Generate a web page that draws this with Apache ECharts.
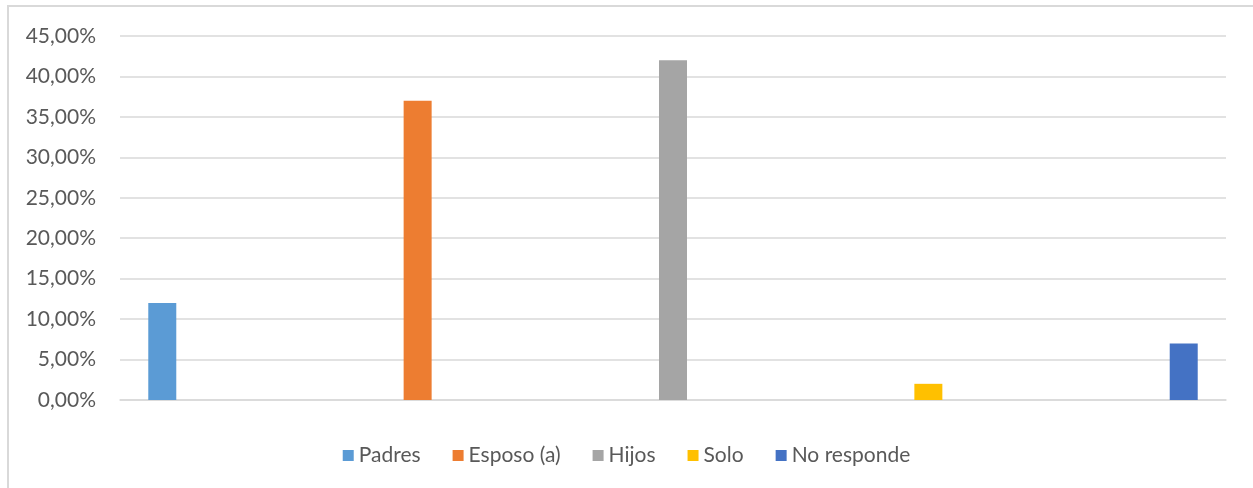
<!DOCTYPE html>
<html>
<head>
<meta charset="utf-8">
<script src="https://cdn.jsdelivr.net/npm/echarts@6/dist/echarts.min.js"></script>
<style>
  html, body { margin: 0; padding: 0; background: #fff; }
  #chart { width: 1253px; height: 488px; }
</style>
</head>
<body>
<div id="chart"></div>
<script>
// Living arrangement shares (percent)
const seriesNames = ['Padres', 'Esposo (a)', 'Hijos', 'Solo', 'No responde'];
const seriesValues = [12, 37, 42, 2, 7];
const seriesColors = ['#5B9BD5', '#ED7D31', '#A5A5A5', '#FFC000', '#4472C4'];
const category = ['Total'];

const fontFamily = 'Lato, "Open Sans", sans-serif';

const chart = echarts.init(document.getElementById('chart'));

chart.setOption({
  animation: false,
  textStyle: { fontFamily },
  graphic: [{
    type: 'rect',
    shape: { x: 8, y: 6, width: 1400, height: 700 },
    style: { fill: 'none', stroke: '#d9d9d9', lineWidth: 2 },
    silent: true,
    z: -10
  }],
  grid: { left: 120, right: 27, top: 36, bottom: 88 },
  legend: {
    bottom: 17,
    left: 'center',
    icon: 'rect',
    itemWidth: 11,
    itemHeight: 11,
    itemGap: 32,
    data: seriesNames,
    textStyle: { color: '#595959', fontSize: 21, fontFamily }
  },
  xAxis: {
    type: 'category',
    data: category,
    axisLabel: { show: false },
    axisTick: { show: false },
    axisLine: { show: true, lineStyle: { color: '#d9d9d9', width: 1.5 } }
  },
  yAxis: {
    type: 'value',
    min: 0,
    max: 45,
    interval: 5,
    axisLine: { show: false },
    axisTick: { show: false },
    axisLabel: {
      color: '#595959',
      fontSize: 21,
      margin: 24,
      formatter: v => v.toFixed(2).replace('.', ',') + '%'
    },
    splitLine: { lineStyle: { color: '#d9d9d9', width: 1.5 } }
  },
  series: seriesNames.map((name, i) => ({
    name,
    type: 'bar',
    barWidth: 28,
    barGap: '812%',
    itemStyle: { color: seriesColors[i] },
    data: [seriesValues[i]]
  }))
});
</script>
</body>
</html>
